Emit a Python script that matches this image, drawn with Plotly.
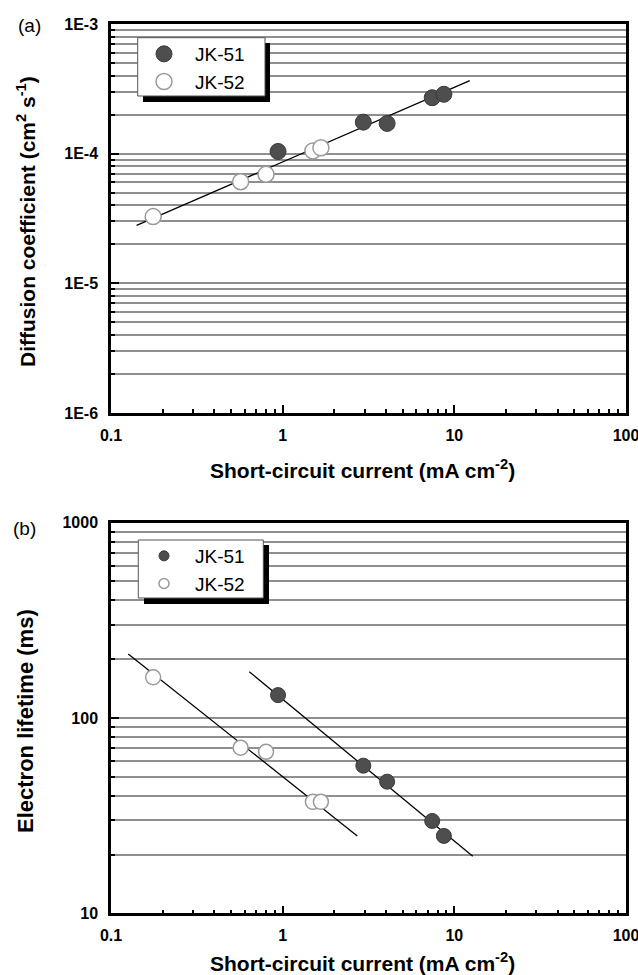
import plotly.graph_objects as go

# ---------------- data ----------------
jk51_jsc = [0.94, 2.95, 4.06, 7.43, 8.69]
jk52_jsc = [0.176, 0.569, 0.80, 1.50, 1.67]

jk51_D = [1.04e-4, 1.75e-4, 1.71e-4, 2.70e-4, 2.87e-4]
jk52_D = [3.27e-5, 6.08e-5, 6.93e-5, 1.05e-4, 1.11e-4]

jk51_tau = [131, 57, 47.2, 29.7, 24.9]
jk52_tau = [161.6, 70.5, 67.1, 37.2, 37.2]

fitD_x = [0.141, 12.3]
fitD_y = [2.8e-5, 3.66e-4]
fit51_tau_x = [0.639, 12.8]
fit51_tau_y = [172.6, 19.6]
fit52_tau_x = [0.126, 2.72]
fit52_tau_y = [212.7, 24.9]

x_tickvals = [0.1, 1, 10, 100]
x_ticktext = ["0.1", "1", "10", "100"]
yD_tickvals = [1e-6, 1e-5, 1e-4, 1e-3]
yD_ticktext = ["1E-6", "1E-5", "1E-4", "1E-3"]
yT_tickvals = [10, 100, 1000]
yT_ticktext = ["10", "100", "1000"]

series_names = ["JK-51", "JK-52"]

# ---------------- styling ----------------
W, H = 638, 975
FONT = "Liberation Sans, Arial, Helvetica, sans-serif"
FILL_C = "#4e4e4e"
FILL_LINE = "#3a3a3a"
OPEN_LINE = "#9a9a9a"
GRID_C = "#8f8f8f"


def px(x):
    return x / W


def py(y):
    return 1 - y / H


fig = go.Figure()

# panel (a)
fig.add_trace(go.Scatter(x=fitD_x, y=fitD_y, mode="lines", line=dict(color="black", width=1.3),
                         showlegend=False, xaxis="x", yaxis="y", hoverinfo="skip"))
fig.add_trace(go.Scatter(x=jk51_jsc, y=jk51_D, mode="markers", name=series_names[0],
                         marker=dict(size=16, color=FILL_C, line=dict(color=FILL_LINE, width=1)),
                         xaxis="x", yaxis="y", legend="legend"))
fig.add_trace(go.Scatter(x=jk52_jsc, y=jk52_D, mode="markers", name=series_names[1],
                         marker=dict(size=16, color="white", line=dict(color=OPEN_LINE, width=1.5)),
                         xaxis="x", yaxis="y", legend="legend"))

# panel (b)
fig.add_trace(go.Scatter(x=fit51_tau_x, y=fit51_tau_y, mode="lines", line=dict(color="black", width=1.3),
                         showlegend=False, xaxis="x2", yaxis="y2", hoverinfo="skip"))
fig.add_trace(go.Scatter(x=fit52_tau_x, y=fit52_tau_y, mode="lines", line=dict(color="black", width=1.3),
                         showlegend=False, xaxis="x2", yaxis="y2", hoverinfo="skip"))
fig.add_trace(go.Scatter(x=jk51_jsc, y=jk51_tau, mode="markers", name=series_names[0],
                         marker=dict(size=15, color=FILL_C, line=dict(color=FILL_LINE, width=1)),
                         xaxis="x2", yaxis="y2", showlegend=False))
fig.add_trace(go.Scatter(x=jk52_jsc, y=jk52_tau, mode="markers", name=series_names[1],
                         marker=dict(size=15, color="white", line=dict(color=OPEN_LINE, width=1.5)),
                         xaxis="x2", yaxis="y2", showlegend=False))
# legend entries for (b) (smaller symbols)
fig.add_trace(go.Scatter(x=[None], y=[None], mode="markers", name=series_names[0],
                         marker=dict(size=10, color=FILL_C, line=dict(color=FILL_LINE, width=1)),
                         xaxis="x2", yaxis="y2", legend="legend2"))
fig.add_trace(go.Scatter(x=[None], y=[None], mode="markers", name=series_names[1],
                         marker=dict(size=10, color="white", line=dict(color=OPEN_LINE, width=1.5)),
                         xaxis="x2", yaxis="y2", legend="legend2"))

tickfont = dict(family=FONT, size=16, color="black", weight="bold")


def xaxis_cfg(anchor):
    return dict(type="log", range=[-1, 2], domain=[px(111), px(626)], anchor=anchor,
                tickmode="array", tickvals=x_tickvals, ticktext=x_ticktext,
                ticks="inside", ticklen=8, tickwidth=2, tickcolor="black",
                showline=True, linewidth=2.5, linecolor="black", mirror=True, automargin=False,
                showgrid=False, zeroline=False, tickfont=tickfont, ticklabelstandoff=6,
                ticklabeloverflow="allow",
                minor=dict(dtick="D1", ticks="inside", ticklen=4, tickwidth=1.5,
                           tickcolor="black", showgrid=False))


def yaxis_cfg(anchor, rng, dom, tv, tt):
    return dict(type="log", range=rng, domain=dom, anchor=anchor,
                tickmode="array", tickvals=tv, ticktext=tt,
                ticks="inside", ticklen=8, tickwidth=2, tickcolor="black",
                showline=True, linewidth=2.5, linecolor="black", mirror=True, automargin=False,
                showgrid=True, gridcolor=GRID_C, gridwidth=1.5, zeroline=False,
                tickfont=tickfont, ticklabelstandoff=7, ticklabeloverflow="allow",
                minor=dict(dtick="D1", ticks="inside", ticklen=4, tickwidth=1.5,
                           tickcolor="black", showgrid=True, gridcolor=GRID_C, gridwidth=1.5))


legend_common = dict(bgcolor="rgba(0,0,0,0)", borderwidth=0, xanchor="left", yanchor="top",
                     font=dict(family=FONT, size=19, color="black"), itemwidth=52)


def ann(text, x, y, size, bold=False, angle=0):
    return dict(text=("<b>%s</b>" % text) if bold else text, x=px(x), y=py(y),
                xref="paper", yref="paper", xanchor="center", yanchor="middle",
                showarrow=False, textangle=angle,
                font=dict(family=FONT, size=size, color="black"))


fig.update_layout(
    width=W, height=H, margin=dict(l=0, r=0, t=0, b=0, autoexpand=False),
    paper_bgcolor="white", plot_bgcolor="white",
    xaxis=xaxis_cfg("y"),
    yaxis=yaxis_cfg("x", [-6, -3], [py(413), py(24)], yD_tickvals, yD_ticktext),
    xaxis2=xaxis_cfg("y2"),
    yaxis2=yaxis_cfg("x2", [1, 3], [py(913.3), py(522.7)], yT_tickvals, yT_ticktext),
    legend=dict(x=px(133), y=py(35), **legend_common),
    legend2=dict(x=px(133), y=py(537), **legend_common),
    shapes=[
        # legend (a) shadow + box
        dict(type="rect", xref="paper", yref="paper", x0=px(143), x1=px(270), y0=py(102), y1=py(43),
             fillcolor="black", line=dict(width=0), layer="above"),
        dict(type="rect", xref="paper", yref="paper", x0=px(137.7), x1=px(265), y0=py(96), y1=py(37.7),
             fillcolor="white", line=dict(color="#555555", width=1), layer="above"),
        # legend (b) shadow + box
        dict(type="rect", xref="paper", yref="paper", x0=px(144), x1=px(269), y0=py(604), y1=py(545),
             fillcolor="black", line=dict(width=0), layer="above"),
        dict(type="rect", xref="paper", yref="paper", x0=px(138.3), x1=px(263.3), y0=py(598), y1=py(540),
             fillcolor="white", line=dict(color="#555555", width=1), layer="above"),
    ],
    annotations=[
        ann("(a)", 29, 26, 19),
        ann("(b)", 24, 528, 19),
        ann("Short-circuit current (mA cm<sup>-2</sup>)", 362, 469, 21, bold=True),
        ann("Short-circuit current (mA cm<sup>-2</sup>)", 362, 962, 21, bold=True),
        ann("Diffusion coefficient (cm<sup>2</sup> s<sup>-1</sup>)", 26, 222, 21, bold=True, angle=-90),
        ann("Electron lifetime (ms)", 25, 721, 22, bold=True, angle=-90),
    ],
)

fig.write_html("out.html", config={"displayModeBar": False},
               post_script="document.body.style.margin='0';document.body.style.overflow='hidden';")
